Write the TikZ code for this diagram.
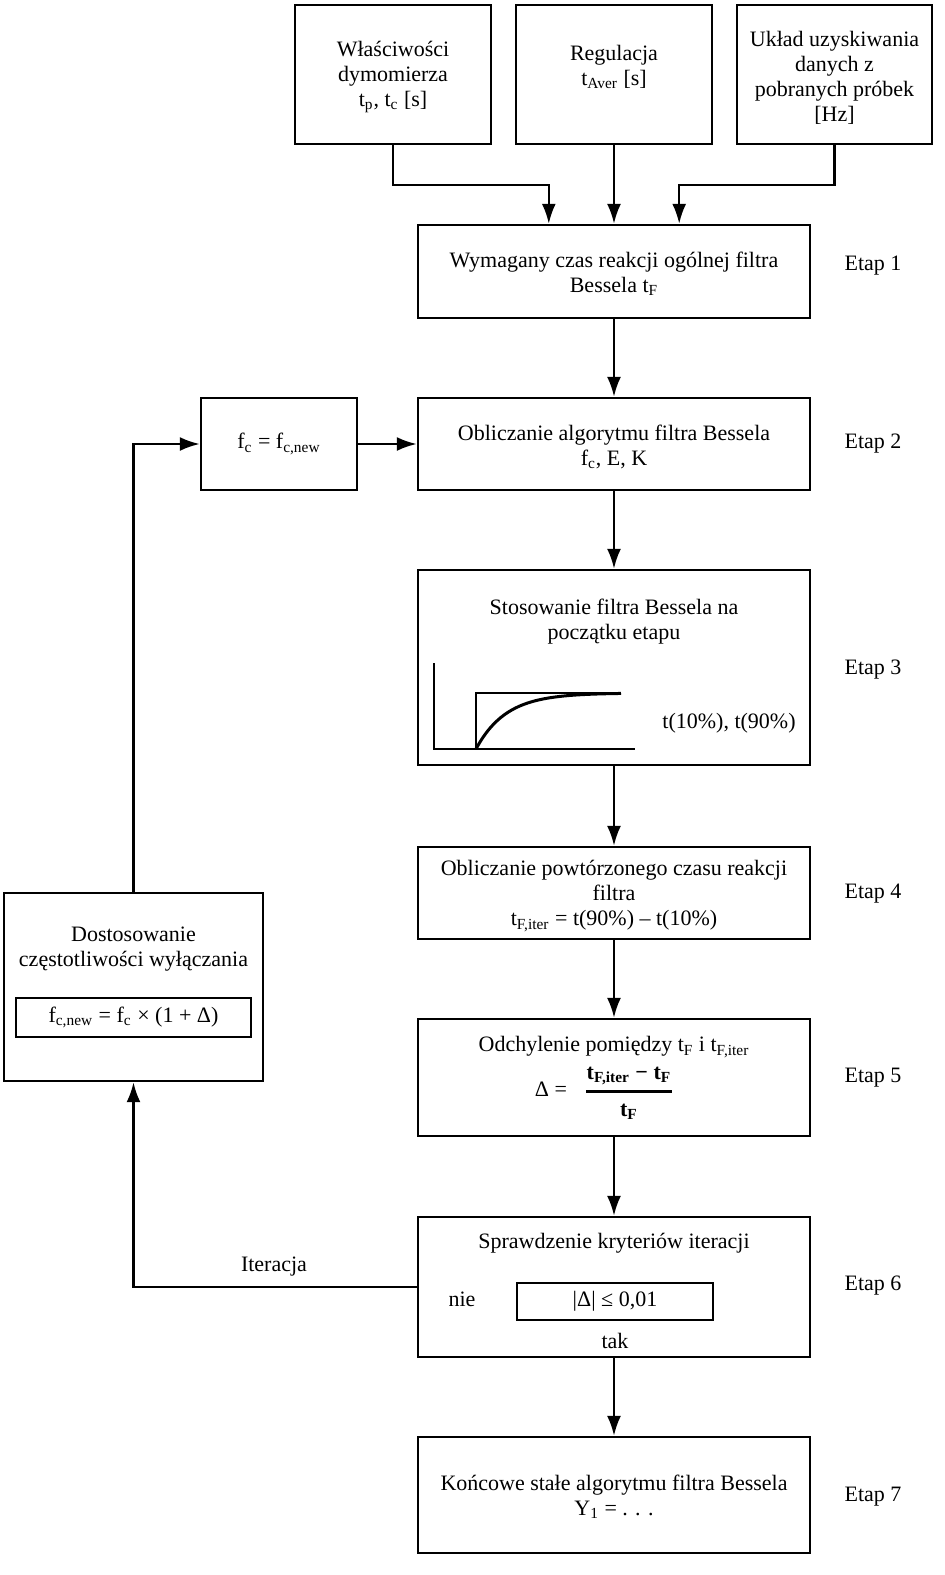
\documentclass[tikz,border=0pt]{standalone}
\usepackage{fontspec}
\setmainfont{Liberation Serif}
\usetikzlibrary{arrows.meta}
\begin{document}
\begin{tikzpicture}[x=0.5pt,y=-0.5pt,
 box/.style={draw,line width=1.2pt,inner sep=0pt,align=center,font=\fontsize{11}{12.5}\selectfont},
 arr/.style={line width=1.2pt,-{Latex[length=10pt,width=7pt]}},
 ln/.style={line width=1.2pt},
 txt/.style={align=center,font=\fontsize{11}{12.5}\selectfont,inner sep=0pt},
 etap/.style={font=\fontsize{11}{12.5}\selectfont,inner sep=0pt}]
\useasboundingbox (0,0) rectangle (945,1575);
% top input boxes
\node[box,minimum width=98pt,minimum height=69.5pt] (A) at (393,74.5) {};
\node[txt] (At) at (393,77) {Właściwości\\dymomierza\\t\textsubscript{p}, t\textsubscript{c} [s]};
\node[box,minimum width=98pt,minimum height=69.5pt] (B) at (614,74.5) {};
\node[txt] (Bt) at (614,67) {Regulacja\\t\textsubscript{Aver} [s]};
\node[box,minimum width=97.5pt,minimum height=69.5pt] (C) at (834.5,74.5) {};
\node[txt] (Ct) at (834.5,78) {Układ uzyskiwania\\danych z\\pobranych próbek\\ {[Hz]}};
% main stages
\node[box,minimum width=196pt,minimum height=46.5pt] (E1) at (614,271.5) {};
\node[txt] (E1t) at (614,274) {Wymagany czas reakcji ogólnej filtra\\Bessela t\textsubscript{F}};
\node[box,minimum width=196pt,minimum height=46pt] (E2) at (614,444) {};
\node[txt] (E2t) at (614,447) {Obliczanie algorytmu filtra Bessela\\f\textsubscript{c}, E, K};
\node[box,minimum width=78pt,minimum height=46pt] (FC) at (279,444) {f\textsubscript{c} = f\textsubscript{c,new}};
\node[box,minimum width=196pt,minimum height=97.5pt] (E3) at (614,667.5) {};
\node[txt] (E3t) at (614,622) {Stosowanie filtra Bessela na\\początku etapu};
\node[txt] (E3r) at (729,723) {t(10\%), t(90\%)};
\node[box,minimum width=196pt,minimum height=46pt] (E4) at (614,893) {};
\node[txt] (E4t) at (614,896) {Obliczanie powtórzonego czasu reakcji\\filtra\\t\textsubscript{F,iter} = t(90\%) – t(10\%)};
\node[box,minimum width=196pt,minimum height=58.5pt] (E5) at (614,1077.5) {};
\node[txt] (E5t) at (614,1047) {Odchylenie pomiędzy t\textsubscript{F} i t\textsubscript{F,iter}};
\node[txt] (E5d) at (551,1089) {Δ =};
\node[txt,font=\fontsize{11}{12.5}\selectfont\bfseries,inner ysep=3pt] (E5n) at (629,1076) {t\textsubscript{F,iter} − t\textsubscript{F}};
\node[txt,font=\fontsize{11}{12.5}\selectfont\bfseries] (E5m) at (629,1112) {t\textsubscript{F}};
\draw[ln] (E5n.south west) -- (E5n.south east);
\node[box,minimum width=196pt,minimum height=70pt] (E6) at (614,1287) {};
\node[txt] (E6t) at (614,1243) {Sprawdzenie kryteriów iteracji};
\node[box,minimum width=98pt,minimum height=18.5pt] (E6i) at (615,1301.5) {|Δ| ≤ 0,01};
\node[txt] (nie) at (462,1299) {nie};
\node[txt] (tak) at (615,1341) {tak};
\node[box,minimum width=196pt,minimum height=58pt] (E7) at (614,1495) {};
\node[txt] (E7t) at (614,1497) {Końcowe stałe algorytmu filtra Bessela\\Y\textsubscript{1} = . . .};
% left adjustment box
\node[box,minimum width=129.5pt,minimum height=94pt] (L) at (133.5,987) {};
\node[txt] (Lt) at (133.5,949) {Dostosowanie\\częstotliwości wyłączania};
\node[box,minimum width=117.5pt,minimum height=19.5pt] (Li) at (133.5,1017.5) {f\textsubscript{c,new} = f\textsubscript{c} × (1 + Δ)};
% stage labels
\node[etap] (s1) at (873,266) {Etap 1};
\node[etap] (s2) at (873,444) {Etap 2};
\node[etap] (s3) at (873,670) {Etap 3};
\node[etap] (s4) at (873,894) {Etap 4};
\node[etap] (s5) at (873,1078) {Etap 5};
\node[etap] (s6) at (873,1286) {Etap 6};
\node[etap] (s7) at (873,1497) {Etap 7};
% graph in stage 3
\draw[ln] (434,663) -- (434,749) -- (635,749);
\draw[ln] (476,749) -- (476,693) -- (621,693);
\draw[line width=1.5pt] plot[domain=476:621,samples=60,smooth] (\x,{749-56*(1-exp(-(\x-476)/30))});
% connectors
\draw[arr] (A.south) -- ++(0,40) -| ([xshift=66pt]E1.north west);
\draw[arr] (C.south) -- ++(0,40) -| ([xshift=-66pt]E1.north east);
\draw[arr] (B.south) -- (E1.north);
\draw[arr] (E1.south) -- (E2.north);
\draw[arr] (E2.south) -- (E3.north);
\draw[arr] (E3.south) -- (E4.north);
\draw[arr] (E4.south) -- (E5.north);
\draw[arr] (E5.south) -- (E6.north);
\draw[arr] (E6.south) -- (E7.north);
\draw[arr] (FC.east) -- (E2.west);
\draw[arr] (L.north) |- (FC.west);
\draw[arr] (E6.west) -| (L.south);
\node[txt] (it) at (274,1267) {Iteracja};
\end{tikzpicture}
\end{document}
